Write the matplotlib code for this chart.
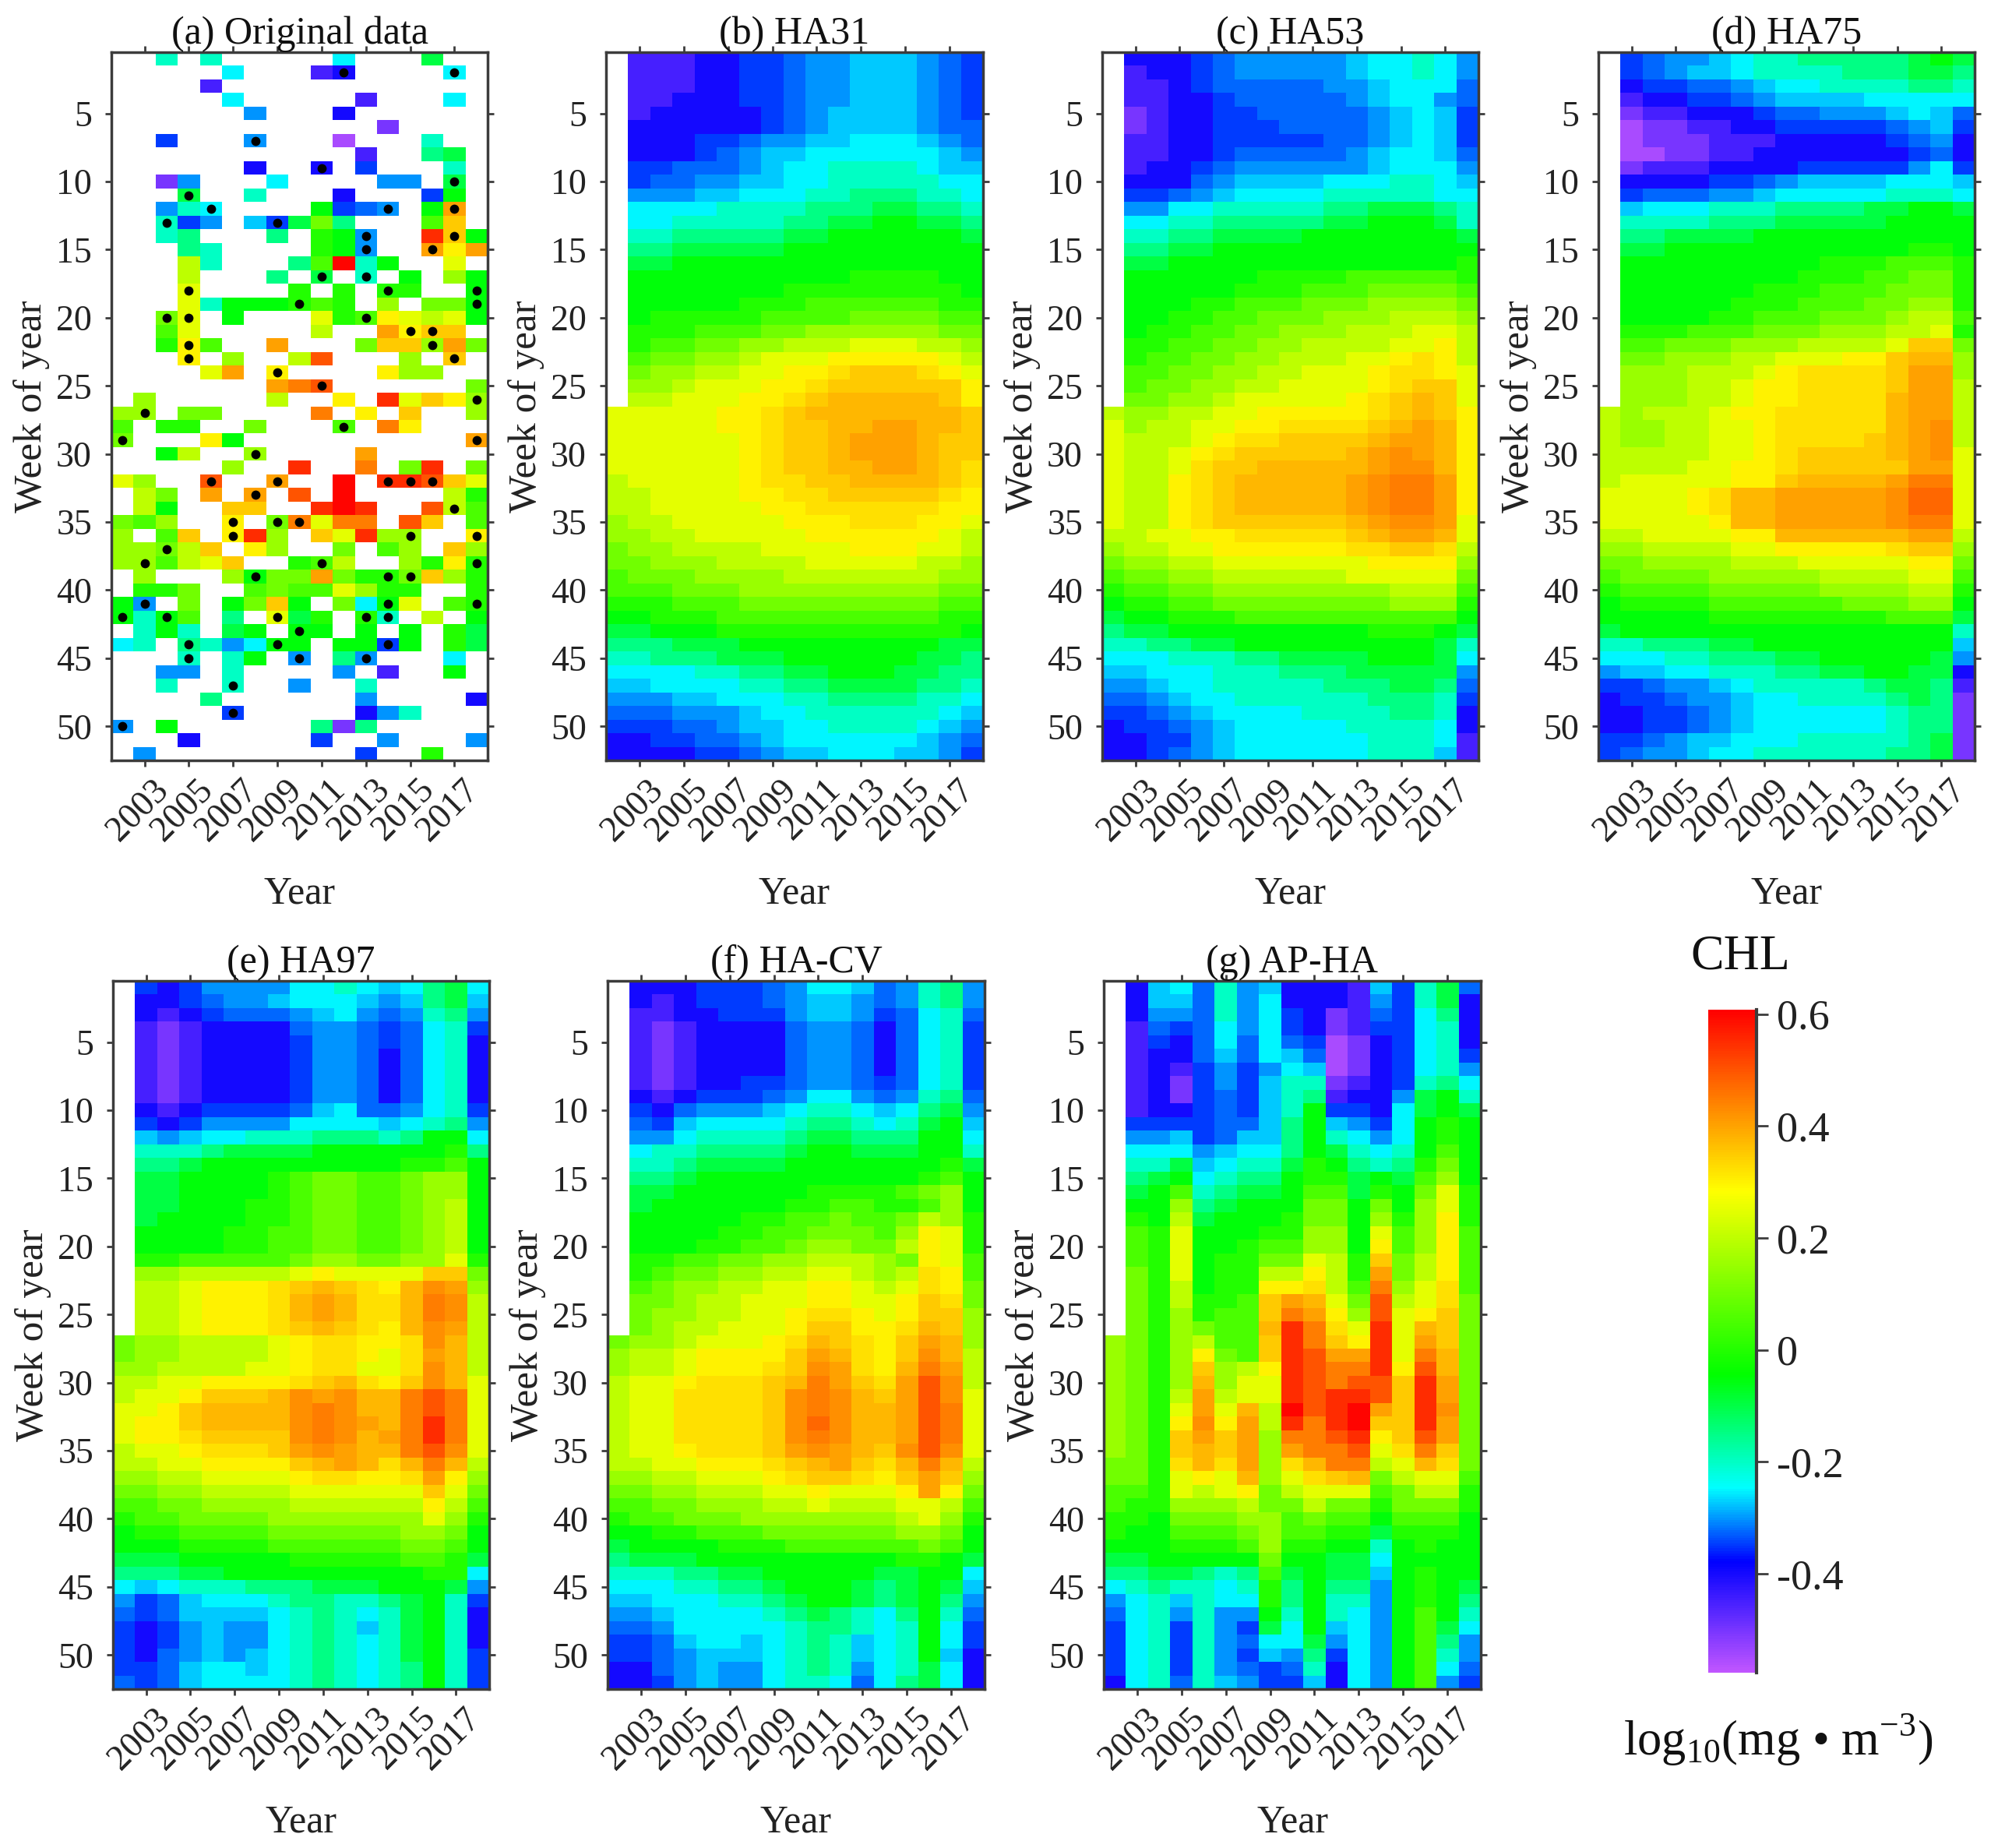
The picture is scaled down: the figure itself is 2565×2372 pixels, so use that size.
import numpy as np
import matplotlib
matplotlib.use('Agg')
import matplotlib.pyplot as plt
from matplotlib.colors import LinearSegmentedColormap
from matplotlib.transforms import ScaledTranslation

plt.rcParams['font.family'] = ['Liberation Serif', 'DejaVu Serif']
plt.rcParams['mathtext.fontset'] = 'custom'
plt.rcParams['mathtext.rm'] = 'Liberation Serif'

years = np.arange(2002, 2019)
weeks = np.arange(1, 53)
year_ticks = [2003, 2005, 2007, 2009, 2011, 2013, 2015, 2017]
week_ticks = [5, 10, 15, 20, 25, 30, 35, 40, 45, 50]
cbar_ticks = [-0.4, -0.2, 0, 0.2, 0.4, 0.6]
cbar_labels = ['-0.4', '-0.2', '0', '0.2', '0.4', '0.6']
vmin, vmax = -0.577, 0.608

# values are stored one letter per cell: a=-0.55, b=-0.50 ... x=0.60, capital = +0.025, . = no data
LETTERS = 'abcdefghijklmnopqrstuvwx'

# (a) week -> "column(year-2002)+letter" for the weeks that have data
orig_cells = {
    1: '2h 4h 10g 14j', 2: '5g 9c 10d 15g', 3: '4c', 4: '5g 11c 15g', 5: '6f 10d', 6: '12b',
    7: '2e 6f 10a 14h', 8: '11c 14i 15j', 9: '6d 9d 11e 15h', 10: '2b 3f 7g 12f 13f 15j',
    11: '3j 6h 10d 14e 15k', 12: '2f 3h 4g 9k 10e 11E 12f 14k 15t',
    13: '2h 3e 4f 6F 7e 8j 9n 10i 14m 15s', 14: '2h 3i 7i 9l 10k 11f 14w 15s 16k',
    15: '3i 4h 9l 10k 11f 14t 15r 16t', 16: '3p 4h 8i 9m 10x 11h 12k 15q',
    17: '3p 7i 9j 11h 13k 15o 16k', 18: '3q 8l 10l 12l 13l 16k',
    19: '3q 4h 5k 6k 7k 8l 9m 10l 12o 14n 15n 16k',
    20: '2n 3q 5k 9q 10l 11m 12r 13q 14p 15q 16k', 21: '2m 3q 9p 12t 13r 14s 15s',
    22: '2l 3r 4m 7t 11n 12s 13s 14o 15t 16n', 23: '3r 5o 8p 9v 13o 15s',
    24: '4q 5t 7r 12r 13o 14o', 25: '7t 8u 9v 16n', 26: '1o 7p 10r 12w 13q 14s 15r 16o',
    27: '0o 1o 3n 4n 9u 11r 13s 16o', 28: '0m 2l 3l 6n 10m 12u 13r', 29: '0n 4r 5k 16t',
    30: '2k 3p 6o 11t', 31: '5o 8w 11u 13n 14w 16n',
    32: '0q 1o 4v 7t 10x 12w 13w 14v 15s 16q', 33: '1p 2n 4t 6t 8v 10x 15p 16l',
    34: '1p 2k 5s 6s 9w 10x 11w 14v 15p 16m',
    35: '0n 1m 2o 5r 7n 8u 9q 10u 11u 13v 14s 16m',
    36: '0o 2m 3s 5r 6w 7o 9s 10q 11w 12o 13o 16r',
    37: '0o 1o 2n 3p 4s 6r 7o 10n 12m 13o 15s 16o',
    38: '0o 1o 2m 3p 4q 5s 8l 9m 10p 13o 14l 15r 16l',
    39: '1o 5o 6k 7n 8n 9t 10n 11l 12l 13n 14s 15o 16l',
    40: '1l 2l 3n 6m 7n 8m 9m 10q 11o 12l 13l 16l',
    41: '0k 1f 3n 5k 6n 7s 8k 10n 11g 12k 13q 15m 16l',
    42: '0k 1h 2k 3m 5i 7q 8j 9l 11l 12h 14p 16k',
    43: '1h 2k 3h 5j 6k 8k 9k 11k 13k 15l 16j',
    44: '0g 1h 3i 4h 5f 6g 7k 8k 10k 11k 12e 13k 15l 16j',
    45: '3h 5h 6k 8f 10i 11f 15g', 46: '2f 3f 5h 10f 12c 15k', 47: '2h 5h 8f 11h',
    48: '4i 11f 16d', 49: '5e 11d 12f 13h', 50: '0f 2k 9i 10b 11i', 51: '3d 9e 12f 16f',
    52: '1f 11e 14l',
}
dot_year = [2012, 2017, 2008, 2011, 2017, 2005, 2006, 2014, 2017, 2004, 2009, 2013, 2017, 2013, 2016,
            2011, 2013, 2005, 2014, 2018, 2010, 2018, 2004, 2005, 2013, 2015, 2016, 2005, 2016, 2005,
            2017, 2009, 2011, 2018, 2003, 2012, 2002, 2018, 2008, 2006, 2009, 2014, 2015, 2016, 2008,
            2017, 2007, 2009, 2010, 2007, 2015, 2018, 2004, 2003, 2011, 2018, 2008, 2014, 2015, 2003,
            2014, 2018, 2002, 2004, 2009, 2013, 2014, 2010, 2005, 2009, 2014, 2005, 2010, 2013, 2007,
            2007, 2002]
dot_week = [2, 2, 7, 9, 10, 11, 12, 12, 12, 13, 13, 14, 14, 15, 15,
            17, 17, 18, 18, 18, 19, 19, 20, 20, 20, 21, 21, 22, 22, 23,
            23, 24, 25, 26, 27, 28, 29, 29, 30, 32, 32, 32, 32, 32, 33,
            34, 35, 35, 35, 36, 36, 36, 37, 38, 38, 38, 39, 39, 39, 41,
            41, 41, 42, 42, 42, 42, 42, 43, 44, 44, 44, 45, 45, 45, 47,
            49, 50]

ha31 = [
    '.cccddeeEffFFFfEe', '.cccddeeEffFFFfEe', '.cccddeeEffFFFfEe', '.ccdddeeEffFFFfEe',
    '.cdddddeEfFFFFfEe', '.ddddddeEfFFFFfEE', '.dddeeEffFFgggFfE', '.dddeEfFFggggggFf',
    '.eeEEEfFgghhhhgFF', '.eEEffFFgghhhhhgg', '.fffFFggghhiiihhg', '.gggghhhhiiijjiih',
    '.gghhhhhiijjkkjji', '.hhiiiiijjkkkkkkj', '.iijjjjjkkkkkkkkk', '.jjkkkkkkkkkkkkkk',
    '.kkkkkkkkkkllllkk', '.kkkkkkkllllllllk', '.kkkkklllmmmmmmll', '.klllllmmmmnnnnmm',
    '.lllmmmnnoooooonn', '.lmmnnoopppqqqppo', '.mnnoopqqqrrrrrqp', '.nooppqqrrRsssRrq',
    '.oopqqqrrRssssssr', '.ppqqqrrRsSSSSSsr', 'qqqqqrrRsSSSSSSSs', 'qqqqqrrRssSSttSSs',
    'qqqqqqrRssStttSss', 'qqqqqqrRssStttSss', 'qqqqqqrRssSSttSsR', 'pqqqqqrRRssSSSSsR',
    'ppqqqqrrRRsssssRr', 'ppqqqqqrrRRRRRRrr', 'oppqqqqqrrrRRRrrq', 'ooppqqqqqrrrrrrqp',
    'nooppppqqqqrrrqqp', 'nnoooppppqqqqqppo', 'mnnnoooopppppppoo', 'mmmnnnooooooooonn',
    'lllmmmnnnnnnnnnmm', 'kklllmmmmmmmmmmll', 'jjkkklllllllllllk', 'iiijjjkkkkkkkkkjj',
    'hhiiijjjkkkkkkjji', 'gggghhiijjkkkjjii', 'FFgggghhiijjjjiih', 'fffFFggghhiiiihhg',
    'EEEfffFgghhhhhhgF', 'eeeEEfFFgghhhhgFf', 'ddeeEEfFggggggFfE', 'ddddeeEfFFgggFFfe',
]
ha53 = [
    '.dddeEfffffFgghgf', '.cddeEfffffFgghgf', '.ccdeEEEEEffFgggE', '.ccddeEEEEEfFggfE',
    '.bcddeeEEEEEfFgFe', '.bcddeeeEEEEfFgFe', '.ccddeeeeeEEfFgFe', '.ccddeEEEEEfFggFE',
    '.cddeEffffffFgggf', '.dddEfFFFFggghhgF', '.eeEfFgggghhhhhgg', '.ffgghhhhhiijjjih',
    '.gghhiiiiijjkkkjh', '.hhiijjjjkkkkkkkj', '.iijjkkkkkkkkkkkk', '.jjkkkkkkkkkkkkkl',
    '.kkkkkkllllmmmmml', '.kkkkklllmmmnnnnm', '.kkkllmmmnnnoooon', '.kkllmmnnnooopppo',
    '.kllmmnnooopppqqp', '.llmmnnooppppqqrp', '.lmmnnoopppqqrRrp', '.mmnnooppqqqrRRrq',
    '.mnnooppqqqqrRssq', '.nnoopqqqqqrRsSsq', 'pooppqqrrrrrRsSsr', 'qoppqqrrRRRRsStSr',
    'qpppqrRRssssSttSr', 'qppqrRsssssStTtSr', 'qppqRssSSSSStTTSr', 'qpprRsSSSSStTuutr',
    'qpprRsSSSSStTuutr', 'qpprRsSSSSStTuutr', 'qpprRssssssStTTtq', 'ppqqrrRRRRRsSttSq',
    'oppqqrrrrrrRRssRp', 'nooppqqqqqqqrrrro', 'mnnooppppppqqqqqn', 'lmmnnoooooooopppm',
    'kllmmnnnnnnnnoool', 'jkklllmmmmmmmmmmk', 'ijjkkkkkkkkklllkj', 'hhiijjkkkkkkkkkjh',
    'ggghhhiijjjjkkkjg', 'FFggghhhiiijjjjjf', 'ffFgghhhhhiiijjiE', 'EEfFgghhhhhhiiihe',
    'eeEfFgggghhhhiihd', 'deeEfFggggghhhhgd', 'ddeefFgggggghhhgc', 'ddeEfFgggggghhhFc',
]
ha75 = [
    '.eEffFghhiiiiijkj', '.eEfFFghhhhiiijji', '.deeEEfFgghhhhiih', '.cddeeEfFFFFggggg',
    '.bccdddeEEfffFgFE', '.abbccddeeeeeEfFe', '.abbbcccdddddeEfd', '.aabbccdddddddeEd',
    '.bcccddddeeeeefge', '.ddddeeEfFFFFgggF', '.eEEEffFggggghhhg', '.Fggghhhiiiijjkkj',
    '.hhhhiiijjjjjkkkk', '.iijjjjkkkkkkkkkk', '.jjkkkkkkkkkkkllk', '.kkkkkkkkklllmmml',
    '.kkkkkkkklllmmnnl', '.kkkkkklllmmmnnnl', '.kkkkklllmmmnnool', '.kkkkllmmmnnnoppm',
    '.lllmmmnnnoooppql', '.mmnnnoooppppqssn', '.nnoooppqqqrrsSSo', '.ooopppqrRRRRstto',
    '.oooppqrrRRRRsttp', '.oooppqrrRRRRSttp', 'popppqrrRRRRRSttp', 'pooppqqrRRRRRStTp',
    'pooppqqrRRRRsStTp', 'pppppqqrRssssStTq', 'ppppqqrrRsssssttq', 'pqqqqqrrsSSSStuuq',
    'qqqqrRSStttttTUUq', 'qqqqrRSStttttTUUq', 'qqqqqrSStttttTuuq', 'ppqqqqrrSSSSSSttp',
    'ooppppqqrrrrrRsso', 'nnoooopppqqqqqrrn', 'mnnnnoooooppppqqm', 'lmmmmnnnnnooooppl',
    'kllllmmmmmmnnnook', 'kkkkkllllllllmmmj', 'jkkkkkkkkkkkkkkkh', 'hhiiijjkkkkkkkkkF',
    'ggghhiiijjkkkkkjf', 'fFFgghhhiijjkkjjd', 'eeEffFghhhhhijjic', 'deeEffFgghhhhijib',
    'ddeeEfFgggggghiib', 'ddeeEfFgggggghiib', 'eeEfFFggghhhhhijb', 'eEffFgghhhhhhiijb',
]
ha97 = [
    '.edeffffgghgFgijg', '.ddeEffFgggFfFijF', '.dcdeEEEfFgfEfhif', '.cbcddddEffEeEghe',
    '.cbcddddeffEeEghd', '.cbcddddeffEdEghd', '.cbcddddeffEdEghd', '.cbcddddeffEdEghd',
    '.cbcddddeffEdEghd', '.dcdeeeeEFgEEfghe', '.edeffffggggFghif', '.FfFgghhhiiihikkg',
    '.hhhijjjjkkkkkkli', '.iijkkkkkkkkkllmk', '.jjkkkklmnnmmnook', '.jjkkkklmnnmmnook',
    '.jjkkkllmnnmmnopk', '.jkkkkllmnnmmnopk', '.kkkkllmmnnmmnopk', '.kkkkllmmnnmmnopk',
    '.llmmmmmnoonnooql', '.oopppppqrqqqqssn', '.ppqrrrRsSsRrSTto', '.ppqrrrRStSRRSuTp',
    '.ppqrrrRStSRRSuTp', '.ppqrrrRsSsRrSTtp', 'nooppppqrRRrrRTSp', 'nooppppqrRRrqRtSp',
    'ooppppqqrRRqqRTSp', 'ppqqrrrrRsSRrsTSq', 'pqqrsssSTtTSSuvuq', 'qqrsSSSSTuTSSuvuq',
    'qrrsSSSSTuTtSuwuq', 'qrrRssssTuTStuwuq', 'pqqrRRRstTtSSuvTq', 'ppqqrrrrsStSRSuSp',
    'ooppqqqqrRRrrRtro', 'nnooppppqqqqqqsqn', 'mmnnoooopppppprpm', 'lmmnnnnoooooooqol',
    'kllmmmmnnnnnnoonk', 'kkkllllmmmmmmnnmk', 'jjjkkkkklllllmmlj', 'iiijjkkkkkkkkkllg',
    'gFghhhiiijjjkkkjf', 'feEFggghiihhijkhe', 'EeEFFFFghihghjkhd', 'edefFffghihFhjkhd',
    'edefFffghihghjkhd', 'edEfFfFghihghjkhe', 'eeEFggFghihghikhe', 'EeEFgggghihghikhe',
]
ha_cv = [
    '.dddeeeEfggFEfhif', '.dcdeeeEfFFfEfhif', '.ccddeeefFFfeEghE', '.cbcddddEffEdEghe',
    '.cbcddddEffEdEghe', '.cbcddddEffEdEghe', '.cbcddddEffEdEghe', '.cbcddeeEffEeEghe',
    '.dcdeeeEfggfEfhiE', '.edEfffFghhgFgijf', '.EeFgggghiihghjkF', '.ffghhhhijjiiikkg',
    '.ghhiiiijkkjjjkkh', '.hhijjjjkkkkkkklj', '.iijkkkkkkkkkklmk', '.jjkkkkkkllllmnok',
    '.jkkkkkkllmmllmok', '.kkkkkllmmnmmnpol', '.kkkkllmmnnnmorql', '.kkkllmmnoonnprql',
    '.llmmnnooppponrqm', '.lmnnooppqqpopRrm', '.mnooppqqrrqpqRrn', '.nnoppqqqrrqqrsRn',
    '.nooppqqrRRrqrsso', '.noppqqqrssrrRSso', 'noopqqqrRSsRrstSo', 'oppqrrrrstSRrsTSp',
    'oppqrrrRsTtRrSutp', 'pqqrRRRsSutsRtvTp', 'pqqRRRRsTuTSstvTq', 'pqqRRRRsTuTSStvuq',
    'pqqRRRRsTUTSStvuq', 'pqqRRRRsTuTSStvuq', 'pqqrRRRstTtSsTvTq', 'ppqqrrrRsStsRSuSp',
    'ooppqqqrRssRrstso', 'nnoopppqqrqqqrtrn', 'mmnnoooppqpppqqpm', 'lmmnnnooooooopqol',
    'kkllmmmnnnnnnoonk', 'jkkkklllmmmmmmnmk', 'ijjjkkkkkkkkkllkj', 'hhhiijjkkkkkjjkkg',
    'ggghhiijkkkjijkjF', 'FFggghhijkkjijkif', 'ffFgggghijihgikhE', 'EEfggggghiihghkge',
    'eeEFggFghihFghkge', 'eeEfFFFghihFghkFd', 'ddEfFffghihfghjgd', 'ddefFffghhgEgijgd',
]
ap_ha = [
    '.dFgEhfFdddcFehjE', '.dFFEhfgdddcfehjd', '.dffEhfgedbcEegid', '.cEeEgfgedbceeghd',
    '.cedEgEgEeabdeghd', '.cddEFEgFEabdeghe', '.cdcefefgFabdeghf', '.cdbefeFhhbcdehig',
    '.cdbeEeFhicddfjkh', '.cddeEeFhkeedgjkj', '.eeeeEEFikFfegklk', '.ffFeEFFikhgfgklk',
    '.gggfFggikjhghkmk', '.hhjFghhjlkihilnk', '.ijkghiiklljkjmok', '.jkmhijjkmmjlknql',
    '.kkoijkkknnknkoql', '.lkpjkkklnnkolorl', '.mlqkkkllookqmorm', '.mlqkklmmookrmorm',
    '.mlqkllnnqplsnprm', '.nlqkllpprpltnprm', '.nlpkllrrRpmuoqRm', '.nlpllmstSqnvpqRn',
    '.nlolmmsutrovqrsn', '.nlonmmSwuRqwqSsn', 'onlopmmswusrwqtsn', 'onlornmswvttwquSn',
    'onlosoprwvuuwrvSn', 'onloSoqqwvuvvswtn', 'onlptpqqwvwwvswtn', 'onlqtqSpxvwxtswTn',
    'onlrTrtpwuwxsswtn', 'onlststouuvwrsvtn', 'onlsSstotuuvqRusn', 'nnlRSRtoRSuupqSRn',
    'nnlqrqSoqRsSnpqqm', 'mmlqpqrnpqqqmnppl', 'mllooopnnpnnlnnnl', 'llknnnoomnmmkmmmk',
    'lkkmmmnommlljlllk', 'kkklllmollkkhklkk', 'jjkkkkknkkjjgkkkk', 'iijjihimjkjjFklkk',
    'ghihhghlikiifklkj', 'fghFhgglikhhfklki', 'Eghfhffkhkhgfkmkh', 'eghehfejgkFgfkmjg',
    'eghehfEggjfgfkmif', 'eghehfeFfiegfkmhf', 'eghehfEeEhdgfkmgE', 'dghEhFfeeFdgfkmfe',
]


def letter_value(c):
    if c == '.':
        return np.nan
    if c.isupper():
        return LETTERS.index(c.lower()) * 0.05 - 0.55 + 0.025
    return LETTERS.index(c) * 0.05 - 0.55


def decode(rows):
    return np.array([[letter_value(c) for c in r] for r in rows])


def decode_sparse(cells):
    z = np.full((52, 17), np.nan)
    for w, s in cells.items():
        for tok in s.split():
            z[w - 1, int(tok[:-1])] = letter_value(tok[-1])
    return z


# colour stops
stop_val = [vmin, -0.38, -0.247, -0.045, 0.285, vmax]
stop_col = ['#c055ff', '#0000ff', '#00ffff', '#00ff00', '#ffff00', '#ff0000']
cmap = LinearSegmentedColormap.from_list(
    'chl', [((v - vmin) / (vmax - vmin), c) for v, c in zip(stop_val, stop_col)], N=256)
cmap.set_bad('white')

W, H = 2565, 2372
fig = plt.figure(figsize=(W / 100, H / 100), dpi=100)


def add_axes_px(x0, y0, x1, y1):
    return fig.add_axes([x0 / W, 1 - y1 / H, (x1 - x0) / W, (y1 - y0) / H])


panels = [
    ('(a) Original data', decode_sparse(orig_cells), (143, 67, 626, 976)),
    ('(b) HA31', decode(ha31), (778, 67, 1262, 976)),
    ('(c) HA53', decode(ha53), (1415, 67, 1898, 976)),
    ('(d) HA75', decode(ha75), (2052, 67, 2535, 976)),
    ('(e) HA97', decode(ha97), (145, 1259, 628, 2168)),
    ('(f) HA-CV', decode(ha_cv), (780, 1259, 1264, 2168)),
    ('(g) AP-HA', decode(ap_ha), (1417, 1259, 1901, 2168)),
]

x_edges = np.arange(2001.5, 2019)
y_edges = np.arange(0.5, 53)
frame = '#3c3c3c'
text_col = '#222222'

for i, (title, z, box) in enumerate(panels):
    ax = add_axes_px(*box)
    mesh = ax.pcolormesh(x_edges, y_edges, z, cmap=cmap, vmin=vmin, vmax=vmax, linewidth=0, rasterized=True)
    if i == 0:
        ax.scatter(dot_year, dot_week, s=72, c='black', linewidths=0, zorder=3)
    ax.set_ylim(52.5, 0.5)
    ax.set_xlim(2001.5, 2018.5)
    ax.set_xticks(year_ticks)
    ax.set_yticks(week_ticks)
    ax.tick_params(direction='out', length=6, width=2, color=frame, top=True, right=True,
                   labelsize=33, labelcolor=text_col, pad=6)
    ax.tick_params(axis='y', pad=12)
    shift = ScaledTranslation(-8 / 100, 0, fig.dpi_scale_trans)
    for lab in ax.get_xticklabels():
        lab.set_rotation(45)
        lab.set_ha('center')
        lab.set_transform(lab.get_transform() + shift)
    for sp in ax.spines.values():
        sp.set_linewidth(2.5)
        sp.set_color(frame)
    ax.set_title(title, fontsize=36, pad=8, color='#111111')
    ax.set_xlabel('Year', fontsize=36, color=text_col, labelpad=26)
    ax.set_ylabel('Week of year', fontsize=37, color=text_col, labelpad=6)

cax = add_axes_px(2193, 1296, 2255, 2147)
cb = fig.colorbar(mesh, cax=cax)
cb.set_ticks(cbar_ticks)
cb.set_ticklabels(cbar_labels)
cb.ax.tick_params(direction='out', length=11, width=2, color=frame, labelsize=39, labelcolor=text_col, pad=8)
cb.outline.set_visible(False)
cax.spines['right'].set_visible(True)
cax.spines['right'].set_color(frame)
cax.spines['right'].set_linewidth(3)

fig.text(2234 / W, 1 - 1228 / H, 'CHL', fontsize=46, ha='center', va='center', color='#111111')
fig.text(2283 / W, 1 - 2233 / H, r'log$_{10}$(mg • m$^{-3}$)', fontsize=45, ha='center', va='center', color='#111111')

fig.savefig('out.png', dpi=100)
